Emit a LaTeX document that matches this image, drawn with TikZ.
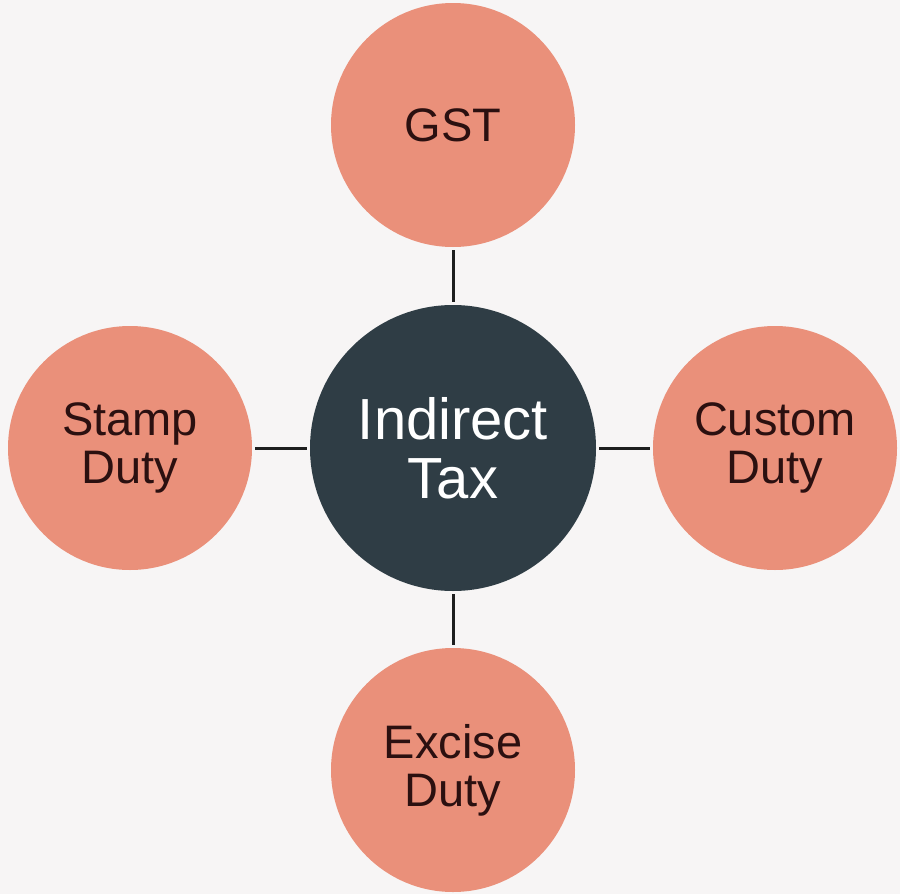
\documentclass[tikz,border=0pt]{standalone}
\usepackage{fontspec}
\setmainfont{Liberation Sans}
\definecolor{bgc}{HTML}{F7F5F5}
\definecolor{salmon}{HTML}{EA907A}
\definecolor{slate}{HTML}{2F3D45}
\definecolor{brownt}{HTML}{2B1010}
\definecolor{linec}{HTML}{1E1E1E}
\begin{document}
\begin{tikzpicture}[x=1pt,y=-1pt,
  leaf/.style={circle,fill=salmon,minimum size=244pt,inner sep=0pt,align=center,
    text=brownt,font=\fontsize{47}{48}\selectfont},
  hub/.style={circle,fill=slate,minimum size=286pt,inner sep=0pt,align=center,
    text=white,font=\fontsize{58}{59}\selectfont},
  link/.style={draw=linec,line width=3pt,shorten <=3pt,shorten >=3pt}]
\fill[bgc] (0,0) rectangle (900,894);
\useasboundingbox (0,0) rectangle (900,894);
\node[hub] (c) at (453,448) {Indirect\\Tax};
\node[leaf] (g) at (453,125) {GST};
\node[leaf] (s) at (130,448) {Stamp\\Duty};
\node[leaf] (cu) at (775,448) {Custom\\Duty};
\node[leaf] (e) at (453,770) {Excise\\Duty};
\draw[link] (g) -- (c);
\draw[link] (s) -- (c);
\draw[link] (c) -- (cu);
\draw[link] (c) -- (e);
\end{tikzpicture}
\end{document}
